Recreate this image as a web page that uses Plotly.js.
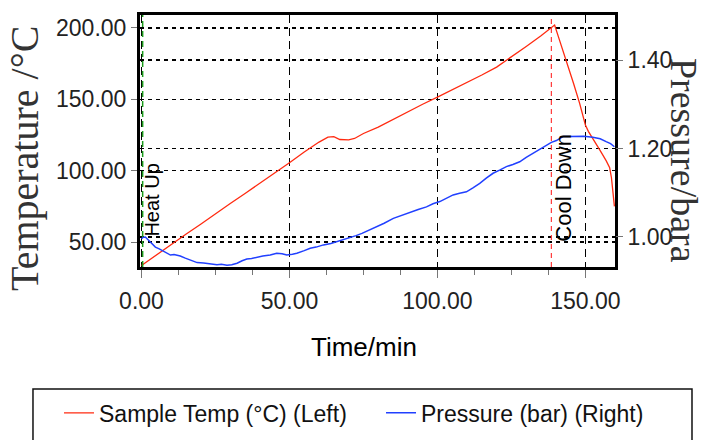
<!DOCTYPE html>
<html>
<head>
<meta charset="utf-8">
<script src="https://cdn.plot.ly/plotly-3.0.1.min.js"></script>
<style>html,body{margin:0;padding:0;background:#fff;}#chart{width:704px;height:440px;}</style>
</head>
<body>
<div id="chart"></div>
<script>
// Sample temperature (left axis, °C)
var tempTime = [0, 5, 10, 15, 20, 25, 30, 35, 40, 45, 50, 55, 60, 63, 65, 67, 70, 72, 75, 80, 85, 90, 95, 100, 105, 110, 115, 120, 125, 130, 135, 139, 139.6, 141, 143.5, 146, 148, 150, 151, 153, 155, 157, 158.2, 158.8, 159.3, 159.8];
var tempValues = [33.5, 41, 48, 55.5, 62.5, 70, 77, 84, 91, 98.5, 105.5, 113, 120, 123.5, 123.8, 121.8, 121.6, 122.5, 126, 130.5, 136, 141, 146.5, 151.5, 156.5, 162, 167, 172.5, 179.5, 187, 194.5, 201, 202, 193, 177.5, 161, 147.5, 132, 127.5, 121, 114, 107, 102, 95, 85, 75];

// Pressure (right axis, bar)
var presTime = [0, 0.5, 1.3, 2.5, 3.5, 4.7, 6, 7.5, 8.7, 9.8, 11, 13.1, 14.8, 16.5, 18.8, 21, 23.3, 25.5, 27, 28.9, 30.5, 32.3, 34, 35.6, 37.2, 39, 41, 43.5, 45.7, 47.5, 49.1, 51, 52.5, 55, 57, 59, 61.5, 64, 66, 68.5, 70.5, 72.5, 74.5, 77.2, 79.5, 82, 85.1, 88, 90.7, 93.5, 96.3, 98.5, 100.8, 103, 105.3, 107.5, 109.8, 112, 114.3, 116.5, 118.8, 121, 123.3, 125.5, 127.8, 130, 132.3, 134.5, 136.8, 138.5, 140.2, 142.4, 144.5, 146.9, 149.5, 152.5, 155, 157, 158.5, 159.8];
var presValues = [0.996, 0.999, 1.000, 0.991, 0.984, 0.977, 0.973, 0.967, 0.962, 0.959, 0.960, 0.957, 0.952, 0.948, 0.942, 0.941, 0.939, 0.937, 0.938, 0.936, 0.937, 0.9405, 0.946, 0.950, 0.951, 0.954, 0.957, 0.959, 0.963, 0.962, 0.959, 0.961, 0.963, 0.969, 0.9745, 0.977, 0.982, 0.985, 0.989, 0.994, 0.999, 1.003, 1.008, 1.016, 1.023, 1.031, 1.042, 1.049, 1.057, 1.062, 1.068, 1.075, 1.080, 1.087, 1.095, 1.099, 1.102, 1.111, 1.121, 1.133, 1.144, 1.151, 1.159, 1.164, 1.170, 1.180, 1.189, 1.199, 1.208, 1.214, 1.218, 1.227, 1.227, 1.227, 1.228, 1.2255, 1.222, 1.2155, 1.211, 1.204];

var xTickStep = 50;
var xMinorStep = 12.5;
var heatUpTime = 0;
var coolDownTime = 138.5;

var sans = "Liberation Sans, Arial, sans-serif";
var serif = "Liberation Serif, Times New Roman, serif";

var traces = [
  {
    x: tempTime, y: tempValues, type: "scatter", mode: "lines",
    name: "Sample Temp (°C) (Left)", yaxis: "y", legend: "legend",
    line: {color: "#ff2a10", width: 1.3}
  },
  {
    x: presTime, y: presValues, type: "scatter", mode: "lines",
    name: "Pressure (bar) (Right)", yaxis: "y2", legend: "legend2",
    line: {color: "#2140ff", width: 1.5}
  }
];

var legendStyle = function (xPos) {
  return {
    orientation: "h", xref: "paper", yref: "paper",
    x: xPos, y: -0.579, xanchor: "left", yanchor: "middle",
    font: {family: sans, size: 23, color: "#111"},
    bgcolor: "rgba(0,0,0,0)", borderwidth: 0
  };
};

var layout = {
  width: 704, height: 440,
  margin: {l: 140, r: 89, t: 15, b: 173, autoexpand: false},
  paper_bgcolor: "#ffffff", plot_bgcolor: "#ffffff",
  showlegend: true,
  legend: legendStyle(-0.1705),
  legend2: legendStyle(0.5074),
  xaxis: {
    range: [-0.5, 160], tick0: 0, dtick: xTickStep, tickformat: ".2f",
    showgrid: true, gridcolor: "#000", gridwidth: 1.3, griddash: "8px,5px",
    zeroline: false, showline: true, linecolor: "#000", linewidth: 3, mirror: true,
    ticks: "outside", ticklen: 8, tickcolor: "#777", tickwidth: 1,
    minor: {dtick: xMinorStep, tick0: 0, ticks: "outside", ticklen: 5, tickcolor: "#777", showgrid: false},
    tickfont: {family: sans, size: 23, color: "#222"},
    ticklabelstandoff: 3
  },
  yaxis: {
    range: [32.5, 209], tick0: 0, dtick: 50, tickformat: ".2f",
    showgrid: true, gridcolor: "#000", gridwidth: 1.3, griddash: "4px,4px",
    zeroline: false, showline: true, linecolor: "#000", linewidth: 3, mirror: true,
    ticks: "outside", ticklen: 6, tickcolor: "#777",
    tickfont: {family: sans, size: 23, color: "#222"}
  },
  yaxis2: {
    overlaying: "y", side: "right",
    range: [0.932, 1.502], tick0: 0, dtick: 0.2, tickformat: ".2f",
    showgrid: true, gridcolor: "#000", gridwidth: 1.3, griddash: "4px,4px",
    zeroline: false, showline: false,
    ticks: "outside", ticklen: 7, tickcolor: "#777",
    tickfont: {family: sans, size: 23, color: "#222"}
  },
  shapes: [
    {type: "line", xref: "x", yref: "paper", x0: heatUpTime + 0.4, x1: heatUpTime + 0.4, y0: 0, y1: 1,
     line: {color: "#1b9a1b", width: 1.5, dash: "6px,4px"}, layer: "above"},
    {type: "line", xref: "x", yref: "paper", x0: coolDownTime, x1: coolDownTime, y0: 0, y1: 1,
     line: {color: "#ff3a3a", width: 1.2, dash: "5px,4px"}, layer: "above"},
    {type: "rect", xref: "paper", yref: "paper", x0: -0.2253, x1: 1.1621, y0: -0.72, y1: -0.4841,
     line: {color: "#111", width: 1.5}, fillcolor: "rgba(0,0,0,0)"}
  ],
  annotations: [
    {x: 3.4, y: 79.4, xref: "x", yref: "y", text: "Heat Up", textangle: -90, showarrow: false,
     font: {family: sans, size: 20, color: "#000"}},
    {x: 142.3, y: 87.8, xref: "x", yref: "y", text: "Cool Down", textangle: -90, showarrow: false,
     font: {family: sans, size: 22, color: "#000"}},
    {x: -0.2421, y: 0.4286, xref: "paper", yref: "paper", text: "Temperature /°C", textangle: -90, showarrow: false,
     xanchor: "center", yanchor: "middle",
     font: {family: serif, size: 40, color: "#333"}},
    {x: 1.1453, y: 0.425, xref: "paper", yref: "paper", text: "Pressure/bara", textangle: 90, showarrow: false,
     xanchor: "center", yanchor: "middle",
     font: {family: serif, size: 38, color: "#333"}},
    {x: 0.4716, y: -0.3175, xref: "paper", yref: "paper", text: "Time/min", showarrow: false,
     xanchor: "center", yanchor: "middle",
     font: {family: sans, size: 26, color: "#000"}}
  ]
};

Plotly.newPlot("chart", traces, layout, {displayModeBar: false, staticPlot: true});
</script>
</body>
</html>
